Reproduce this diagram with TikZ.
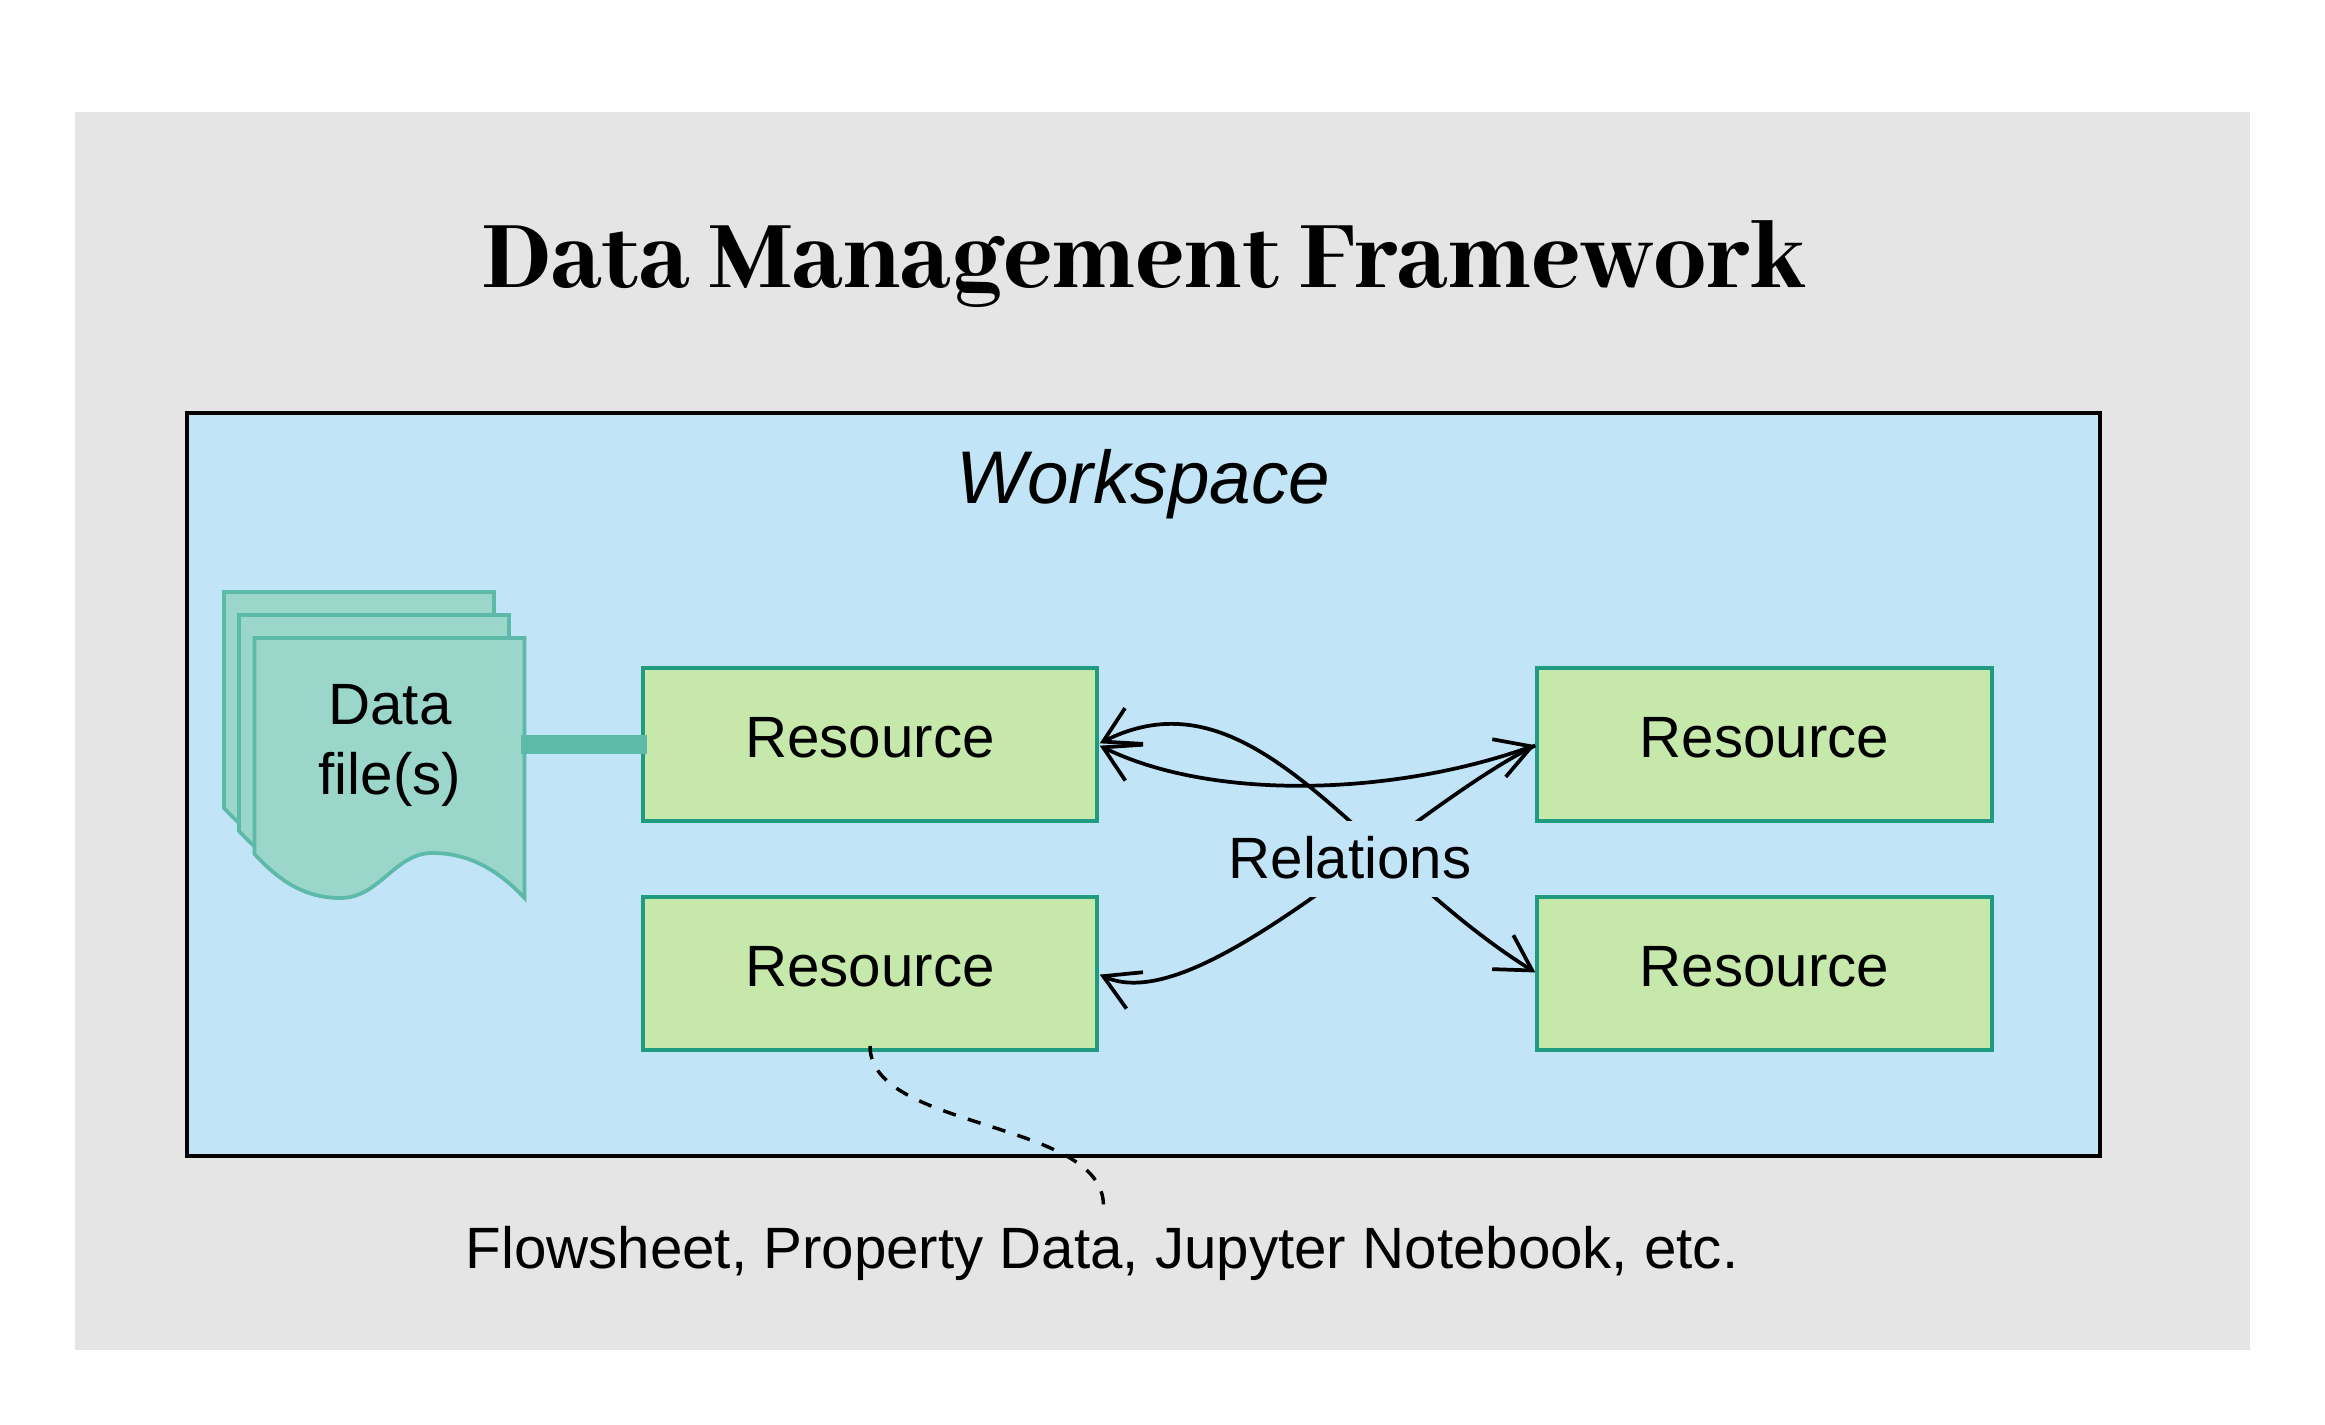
\documentclass[tikz,border=0pt]{standalone}
\usepackage{fontspec}
\setmainfont{Liberation Sans}
\newfontfamily\titlefont{Abhaya Libre ExtraBold}
\usetikzlibrary{arrows.meta}
\definecolor{panelgray}{HTML}{E5E5E5}
\definecolor{wsblue}{HTML}{C1E4F7}
\definecolor{resfill}{HTML}{C6E9AB}
\definecolor{resline}{HTML}{1F9B7F}
\definecolor{docfill}{HTML}{9AD6CA}
\definecolor{docline}{HTML}{5DB9A8}
\tikzset{
  x=0.75pt,y=-0.75pt,
  base font/.style={font=\fontsize{43.7}{52.5}\selectfont},
  resbox/.style={draw=resline,fill=resfill,line width=2.8pt,minimum width=341pt,minimum height=114.75pt,
     inner sep=0pt,outer sep=0pt,base font,text=black,text height=18.8pt,text depth=0pt},
  docpage/.style={draw=docline,fill=docfill,line width=2.8pt},
  relation/.style={line width=2.8pt,-{Straight Barb[length=26pt,width=30pt]}},
  plainlabel/.style={inner sep=0pt,outer sep=0pt,anchor=base,base font,text=black},
}
\newcommand{\docpageat}[2]{%
  \draw[docpage,shift={(#1,#2)}] (0,0) -- (270,0) -- (270,260)
    .. controls (240,228) and (210,215) .. (178,215)
    .. controls (140,215) and (125,260) .. (86,260)
    .. controls (50,260) and (25,243) .. (0,216) -- cycle;}
\begin{document}
\begin{tikzpicture}
\useasboundingbox (0,0) rectangle (2325,1425);
\fill[panelgray] (75,112) rectangle (2250,1350);
\draw[fill=wsblue,draw=black,line width=2.6pt] (187,413) rectangle (2100,1156);

\node[plainlabel,font=\titlefont\fontsize{79}{96}\selectfont] (title) at (1143.5,287) {Data Management Framework};
\node[plainlabel,font=\itshape\fontsize{56}{70}\selectfont] (ws) at (1143.5,503) {Workspace};

\docpageat{224}{592}
\docpageat{239}{615}
\docpageat{254.5}{638}
\node[inner sep=0pt,outer sep=0pt,minimum width=202.5pt,align=center,base font] (df) at (390,745.5) {Data\\file(s)};

\node[resbox] (r1) at (870,744.5) {Resource};
\node[resbox] (r2) at (1764.4,744.5) {Resource};
\node[resbox] (r3) at (870,973.5) {Resource};
\node[resbox] (r4) at (1764.4,973.5) {Resource};

\draw[relation,shorten <=2pt,shorten >=1.5pt,{Straight Barb[length=26pt,width=30pt]}-{Straight Barb[length=26pt,width=30pt]}]
  (r1.east) .. controls (1255,665) and (1358,862) .. (r4.west);
\draw[relation,shorten <=1.5pt,shorten >=2pt] (r2.west) .. controls (1405,810) and (1200,1020) .. (r3.east);
\draw[relation,shorten <=2pt,shorten >=1.5pt,{Straight Barb[length=26pt,width=30pt]}-{Straight Barb[length=26pt,width=30pt]}]
  (r1.east) .. controls (1210,800) and (1390,797) .. (r2.west);

\node[fill=wsblue,inner sep=0pt,outer sep=0pt,minimum width=178.5pt,minimum height=57pt,base font,text height=28.8pt,text depth=0pt] (rel) at (1350,859) {Relations};

\draw[docline,line width=14pt,shorten <=-3pt,shorten >=-3pt] (df.east |- r1.west) -- (r1.west);

\coordinate (noteend) at (1103.4,1205);
\draw[black,line width=2.6pt,dash pattern=on 10pt off 9.5pt,shorten <=-3pt] (r3.south) .. controls (870,1130) and (1103,1120) .. (noteend);
\node[plainlabel] (note) at (1102,1268) {Flowsheet, Property Data, Jupyter Notebook, etc.};
\end{tikzpicture}
\end{document}
